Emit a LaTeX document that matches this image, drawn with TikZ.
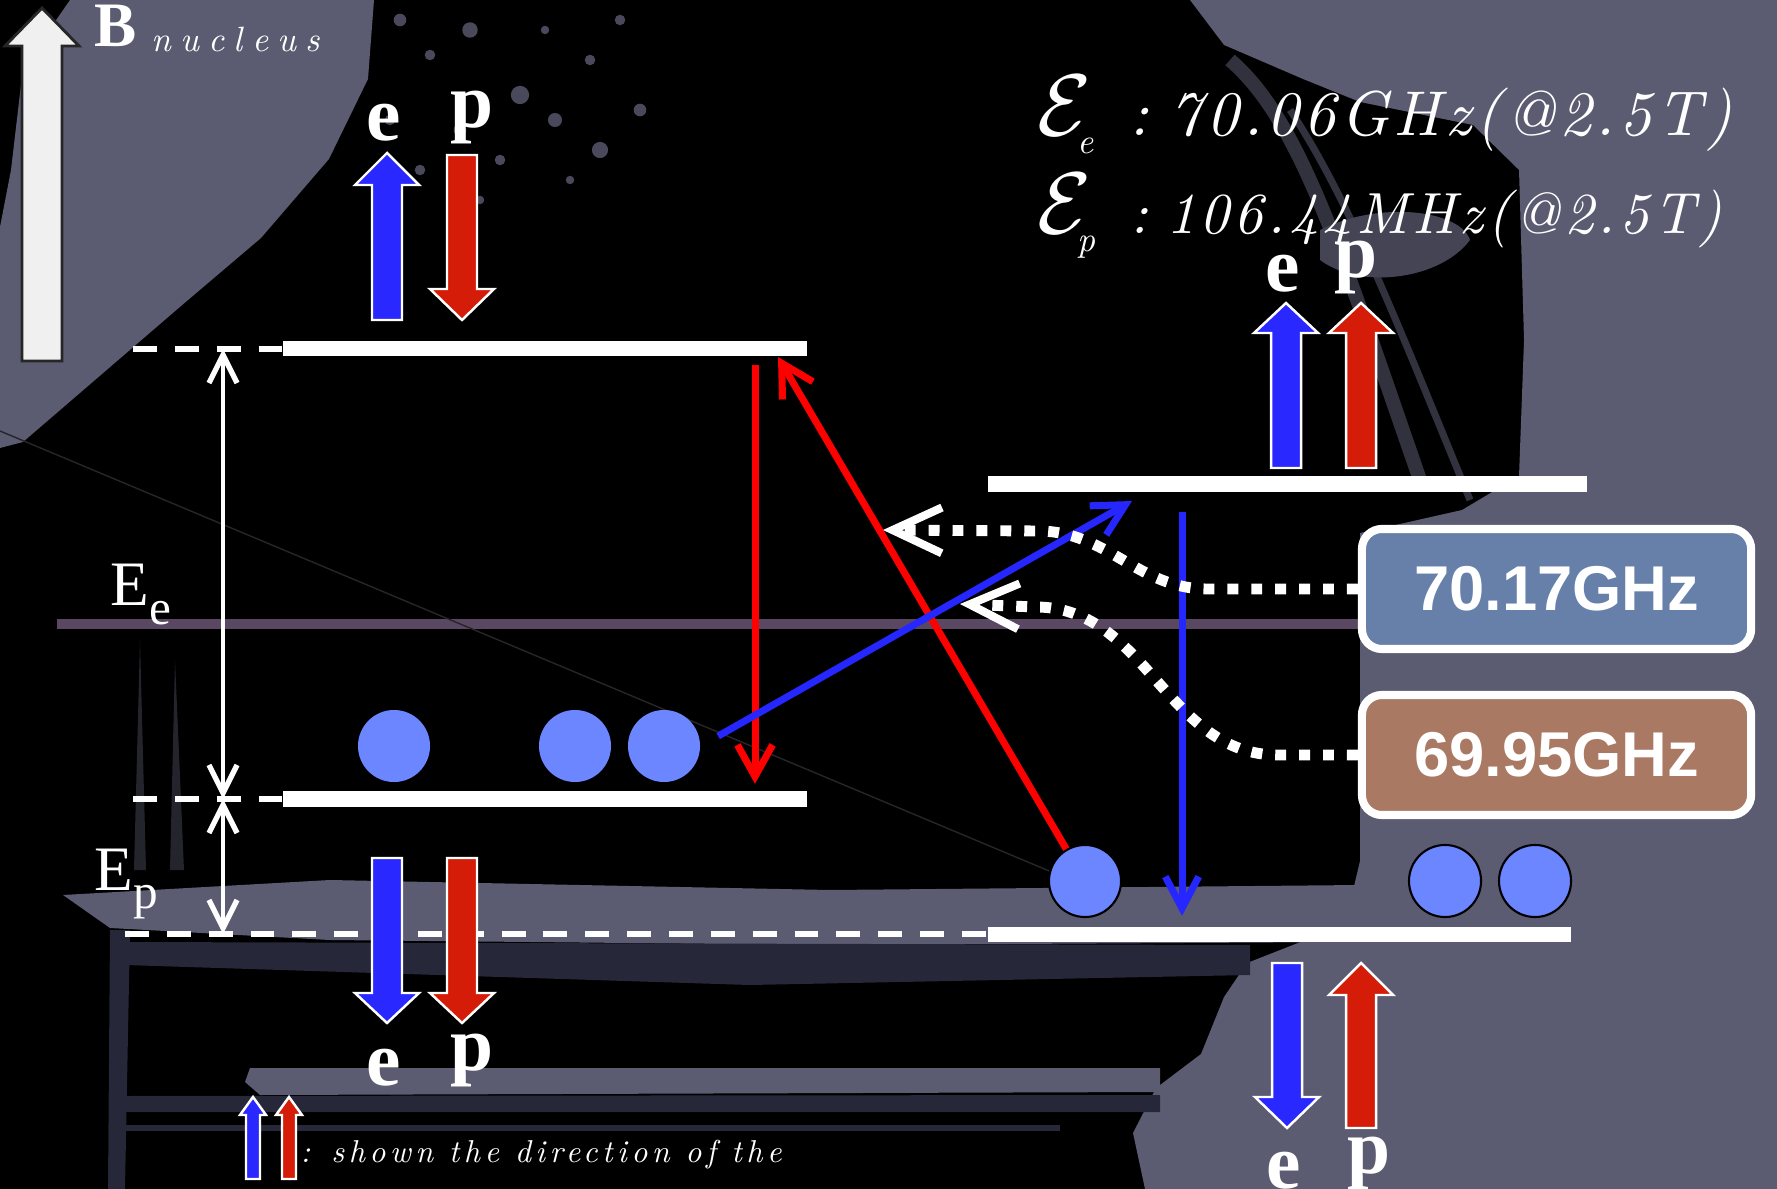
\documentclass[tikz,border=0pt]{standalone}
\usepackage{fontspec}
\setmainfont{Liberation Serif}
\newfontfamily\boxfont{Liberation Sans}
\newfontfamily\fancyfont[LetterSpace=7]{lmroman10-italic.otf}
\newfontfamily\fancymid[LetterSpace=14]{lmroman10-italic.otf}
\newfontfamily\fancywide[LetterSpace=26]{lmroman10-italic.otf}
\usepackage{tikz}
\usetikzlibrary{positioning,arrows.meta,calc}
\definecolor{spinBlue}{HTML}{2828FF}
\definecolor{spinRed}{HTML}{D41C08}
\definecolor{dotBlue}{HTML}{6B86FF}
\definecolor{lineRed}{HTML}{FF0000}
\definecolor{lineBlue}{HTML}{2626FF}
\definecolor{smear}{HTML}{5B5B71}
\definecolor{smearDark}{HTML}{27273A}
\definecolor{streak}{HTML}{5A4862}
\definecolor{boxBlue}{HTML}{6680A9}
\definecolor{boxBrown}{HTML}{A97964}
% block arrow: x, tail y, head base y, tip y, half shaft, half head, colour
\newcommand{\spinarrow}[7]{%
  \filldraw[fill=#7, draw=white, line width=0.7pt]
    ({#1-#5},#2) -- ({#1-#5},#3) -- ({#1-#6},#3) -- (#1,#4)
    -- ({#1+#6},#3) -- ({#1+#5},#3) -- ({#1+#5},#2) -- cycle;}

\begin{document}
\begin{tikzpicture}[x=0.01cm, y=-0.01cm,
    level/.style={rectangle, fill=white, inner sep=0pt, minimum height=0.15cm},
    dot/.style={circle, fill=dotBlue, inner sep=0pt, minimum size=0.72cm},
    freq/.style={rectangle, rounded corners=0.2cm, draw=white, line width=2.3pt,
      minimum width=3.89cm, minimum height=1.2cm, text=white,
      font=\boxfont\bfseries\fontsize{18}{18}\selectfont},
    spinlbl/.style={anchor=south, inner sep=0pt, text=white,
      font=\bfseries\fontsize{22}{22}\selectfont},
    elbl/.style={anchor=base west, inner sep=0pt, text=white,
      font=\fontsize{18}{18}\selectfont},
    guide/.style={white, line width=1.7pt, dash pattern=on 6.8pt off 5.1pt},
    span/.style={white, line width=1.1pt,
      {Straight Barb[length=8pt,width=8pt,line width=1.5pt]}-{Straight Barb[length=8pt,width=8pt,line width=1.5pt]}},
    redline/.style={lineRed, line width=2pt, -{Straight Barb[length=9pt,width=10pt]}},
    blueline/.style={lineBlue, line width=2pt, -{Straight Barb[length=9pt,width=9.5pt]}},
    wave/.style={white, line width=3.1pt, dash pattern=on 3.1pt off 3.7pt,
      -{Straight Barb[length=14pt,width=13pt,line width=2.3pt]}}]
  \useasboundingbox (0,0) rectangle (1777,1189);
  \fill[black] (0,0) rectangle (1777,1189);
  % paint smears
  \fill[smear] (70,0) -- (374,0) -- (368,79) -- (329,159) -- (261,238) -- (181,306)
    -- (102,374) -- (23,442) -- (0,448) -- (0,227) -- (11,170) -- (23,68) -- cycle;
  \fill[smear] (1190,0) -- (1777,0) -- (1777,1189) -- (1145,1189) -- (1133,1133)
    -- (1156,1088) -- (1201,1054) -- (1224,997) -- (1247,963) -- (1303,941)
    -- (1349,907) -- (1360,861) -- (1360,533) -- (1462,510) -- (1519,476)
    -- (1524,340) -- (1519,170) -- (1473,125) -- (1360,102) -- (1303,79)
    -- (1224,45) -- cycle;
  \draw[smear!55!black, line width=4pt] (1230,60) .. controls (1300,120) and (1340,250) .. (1420,480);
  \draw[smear!55!black, line width=2pt] (1290,110) .. controls (1350,200) and (1400,330) .. (1470,500);
  \fill[smear!75!black] (1320,230) .. controls (1380,200) and (1460,210) .. (1470,240)
    .. controls (1440,280) and (1360,290) .. (1320,260) -- cycle;
  \fill[smear] (63,895) -- (330,880) -- (830,890) -- (1360,885) -- (1360,942)
    -- (830,945) -- (330,940) -- (110,928) -- cycle;
  \fill[smearDark] (120,942) -- (1250,945) -- (1250,975) -- (750,985) -- (125,965) -- cycle;
  \fill[smear] (250,1068) -- (1160,1068) -- (1160,1092) -- (260,1095) -- (245,1082) -- cycle;
  \fill[smearDark] (120,1096) -- (1160,1095) -- (1160,1112) -- (125,1112) -- cycle;
  \draw[smearDark, line width=1.5pt] (120,1128) -- (1060,1128);
  \fill[smearDark] (110,930) -- (130,930) -- (125,1189) -- (108,1189) -- cycle;
  \fill[smear!40!black] (140,640) -- (146,870) -- (134,870) -- cycle;
  \fill[smear!40!black] (175,660) -- (184,870) -- (170,870) -- cycle;
  \foreach \x/\y/\r in {400/20/1.8pt, 430/55/1.5pt, 470/30/2.2pt, 520/95/2.6pt,
      555/120/2pt, 590/60/1.5pt, 600/150/2.3pt, 640/110/1.8pt, 500/160/1.5pt,
      460/130/1.8pt, 545/30/1.2pt, 620/20/1.5pt, 570/180/1.2pt, 420/170/1.5pt,
      480/200/1.2pt, 390/120/1.5pt}
    \fill[smear!80!black] (\x,\y) circle (\r);
  \draw[streak, line width=2.6pt] (57,624) -- (1360,624);
  \draw[black!85, line width=0.4pt] (0,431) -- (1054,873);

  % field arrow
  \filldraw[fill=white!94!black, draw=black!85, line width=0.8pt]
    (22,361) -- (22,46) -- (5,46) -- (42,8) -- (79,46) -- (62,46) -- (62,361) -- cycle;
  \node[anchor=base west, inner sep=0pt, text=white, font=\bfseries\fontsize{18}{18}\selectfont] (bB) at (94,47) {B};
  \node[anchor=base west, inner sep=0pt, text=white, font=\fancywide\fontsize{10}{10}\selectfont] (nuc) at (151,52) {nucleus};

  % levels
  \node[level, minimum width=5.24cm] (L1) at (545,349) {};
  \node[level, minimum width=5.24cm] (L2) at (545,799) {};
  \node[level, minimum width=5.99cm] (R1) at (1287.5,484) {};
  \node[level, minimum width=5.83cm] (R2) at (1279.5,934) {};
  \coordinate (g1) at (133,349);
  \coordinate (g2) at (133,799);
  \coordinate (g3) at (125,934);
  \draw[guide] (g1) -- (L1.west);
  \draw[guide] (g2) -- (L2.west);
  \draw[guide] (g3) -- (R2.west);
  \coordinate (a1) at (223,349);
  \coordinate (a2) at (223,799);
  \coordinate (a3) at (223,934);
  \draw[span] (a1) -- (a2);
  \draw[span] (a2) -- (a3);
  \node[elbl] (Ee) at (110,606) {E\raisebox{-0.3em}{\fontsize{14}{14}\selectfont e}};
  \node[elbl] (Ep) at (94,890) {E\raisebox{-0.3em}{\fontsize{14}{14}\selectfont p}};

  % spins
  \spinarrow{387}{320}{185}{153}{15}{32}{spinBlue}
  \spinarrow{462}{155}{289}{320}{15}{32}{spinRed}
  \spinarrow{1286}{468}{333}{303}{15}{32}{spinBlue}
  \spinarrow{1361}{468}{333}{303}{15}{32}{spinRed}
  \spinarrow{387}{858}{993}{1023}{15}{32}{spinBlue}
  \spinarrow{462}{858}{993}{1023}{15}{32}{spinRed}
  \spinarrow{1287}{963}{1097}{1128}{15}{32}{spinBlue}
  \spinarrow{1361}{1128}{995}{963}{15}{32}{spinRed}
  \node[spinlbl] (e1) at (384,142) {e};
  \node[spinlbl] (p1) at (472,145) {p};
  \node[spinlbl] (e2) at (1283,293) {e};
  \node[spinlbl] (p2) at (1356,295) {p};
  \node[spinlbl] (e3) at (384,1087) {e};
  \node[spinlbl] (p3) at (472,1088) {p};
  \node[spinlbl] (e4) at (1284,1190) {e};
  \node[spinlbl] (p4) at (1369,1191) {p};

  % populations
  \node[dot] (c1) at (394,746) {};
  \node[dot] (c2) at (575,746) {};
  \node[dot] (c3) at (664,746) {};
  \node[dot, draw=black, line width=0.6pt] (r1) at (1085,881) {};
  \node[dot, draw=black, line width=0.6pt] (r2) at (1445,881) {};
  \node[dot, draw=black, line width=0.6pt] (r3) at (1535,881) {};

  % transitions
  \coordinate (redx) at (755,0);
  \coordinate (bluex) at (1182,0);
  \coordinate (tipA) at (778,357);
  \coordinate (tipB) at (1132,501);
  \draw[redline, shorten <=0.08cm, shorten >=0.07cm] (L1.south -| redx) -- (L2.north -| redx);
  \draw[redline] (r1) -- (tipA);
  \draw[blueline, shorten <=0.2cm] (c3.east) -- (tipB);
  \draw[blueline, shorten <=0.2cm, shorten >=0.1cm] (R1.south -| bluex) -- (R2.north -| bluex);

  % microwave
  \node[freq, fill=boxBlue] (f1) at (1556.5,589) {70.17GHz};
  \node[freq, fill=boxBrown] (f2) at (1556.5,755) {69.95GHz};
  \coordinate (h1) at (883,530);
  \coordinate (h2) at (960,604);
  \draw[wave] (f1.west) -- ++(-150,0) to[out=180,in=0] ++(-170,-58) -- (h1);
  \draw[wave] (f2.west) -- ++(-80,0) to[out=180,in=0] ++(-242,-148) -- (h2);

  % frequencies
  \node[anchor=base west, inner sep=0pt, text=white, font=\fancyfont\fontsize{18}{18}\selectfont] (fe) at (1037,136)
    {{\fontsize{24}{24}\selectfont$\mathcal{E}$}\kern-4pt\raisebox{-5pt}{\fontsize{10}{10}\selectfont e}\hspace{10pt}:\hspace{6pt}70.06GHz(@2.5T)};
  \node[anchor=base west, inner sep=0pt, text=white, font=\fancyfont\fontsize{16.5}{16.5}\selectfont] (fp) at (1037,234)
    {{\fontsize{24}{24}\selectfont$\mathcal{E}$}\kern-4pt\raisebox{-5pt}{\fontsize{10}{10}\selectfont p}\hspace{10pt}:\hspace{5pt}106.44MHz(@2.5T)};

  % legend
  \spinarrow{253}{1179}{1115}{1097}{7}{13}{spinBlue}
  \spinarrow{289}{1179}{1115}{1097}{7}{13}{spinRed}
  \node[anchor=base west, inner sep=0pt, text=white, font=\fancymid\fontsize{9}{9}\selectfont] (lg) at (300,1162) {: shown the direction of the};
\end{tikzpicture}
\end{document}
